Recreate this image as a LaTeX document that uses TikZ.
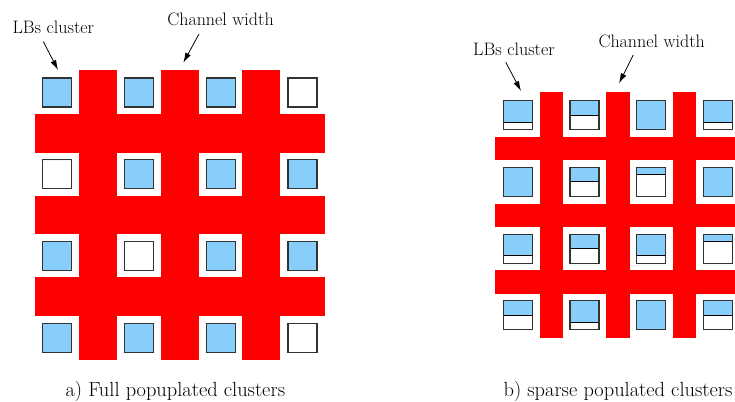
\documentclass[tikz,border=0pt]{standalone}
\usepackage{fontspec}
\usetikzlibrary{arrows.meta,calc}
\definecolor{lbblue}{RGB}{135,206,250}

\begin{document}
\begin{tikzpicture}[x=1pt,y=-1pt,>={Latex[length=10pt,width=6pt]},line width=0.8pt,
  chan/.style={fill=red,draw=none},
  lb/.style={draw=black!80,line width=1.1pt,fill=white,minimum size=29pt,inner sep=0pt,
    path picture={
      \fill[lbblue] (path picture bounding box.north west) rectangle
        ($(path picture bounding box.north east)!#1!(path picture bounding box.south east)$);
      \draw[black,line width=1pt]
        ($(path picture bounding box.north west)!#1!(path picture bounding box.south west)$) --
        ($(path picture bounding box.north east)!#1!(path picture bounding box.south east)$);}},
  lbl/.style={inner sep=0pt,anchor=base,font=\fontsize{18}{21}\selectfont},
  captext/.style={inner sep=0pt,anchor=base,font=\fontsize{20.4}{24}\selectfont}]
  \useasboundingbox (0,0) rectangle (735,401);

  % a) full populated clusters
  \foreach \k in {0,1,2} {
    \fill[chan] (79+\k*81.7,70) rectangle (117+\k*81.7,360);
    \fill[chan] (34.7,114+\k*81.7) rectangle (325,152.5+\k*81.7);
  }
  \foreach \r/\vals in {1/{1,1,1,0},2/{0,1,1,1},3/{1,0,1,1},4/{1,1,1,0}}
    \foreach \f [count=\c] in \vals
      \node[lb=\f] (a\r\c) at (57.4+\c*81.7-81.7,92.5+\r*81.7-81.7) {};

  % b) sparse populated clusters
  \foreach \k in {0,1,2} {
    \fill[chan] (539.5+\k*66.8,91.7) rectangle (562.8+\k*66.8,338);
    \fill[chan] (495,136.7+\k*66.8) rectangle (735,160+\k*66.8);
  }
  \foreach \r/\vals in {1/{.75,.5,1,.75},2/{1,.5,.25,1},3/{.75,.5,.75,.25},4/{.5,.75,1,.5}}
    \foreach \f [count=\c] in \vals
      \node[lb=\f] (b\r\c) at (517.7+\c*66.8-66.8,115+\r*66.8-66.8) {};

  % labels and arrows
  \node[lbl] (lbsA) at (53.3,33.3) {LBs cluster};
  \node[lbl] (chanA) at (220.5,26) {Channel width};
  \node[lbl] (lbsB) at (514,55.7) {LBs cluster};
  \node[lbl] (chanB) at (651.7,47.3) {Channel width};
  \coordinate (tipLbsA) at (58,70);
  \coordinate (tipChanA) at (183.3,62.7);
  \coordinate (tipLbsB) at (521,91);
  \coordinate (tipChanB) at (619,83.3);
  \draw[->] ([xshift=-10pt,yshift=-7.7pt]lbsA.south) -- (tipLbsA);
  \draw[->] ([xshift=-21.5pt,yshift=-7.3pt]chanA.south) -- (tipChanA);
  \draw[->] ([xshift=-8.3pt,yshift=-6pt]lbsB.south) -- (tipLbsB);
  \draw[->] ([xshift=-18.4pt,yshift=-7pt]chanB.south) -- (tipChanB);

  \node[captext] (capA) at (175.3,396) {a) Full popuplated clusters};
  \node[captext] (capB) at (618,396) {b) sparse populated clusters};
\end{tikzpicture}
\end{document}
